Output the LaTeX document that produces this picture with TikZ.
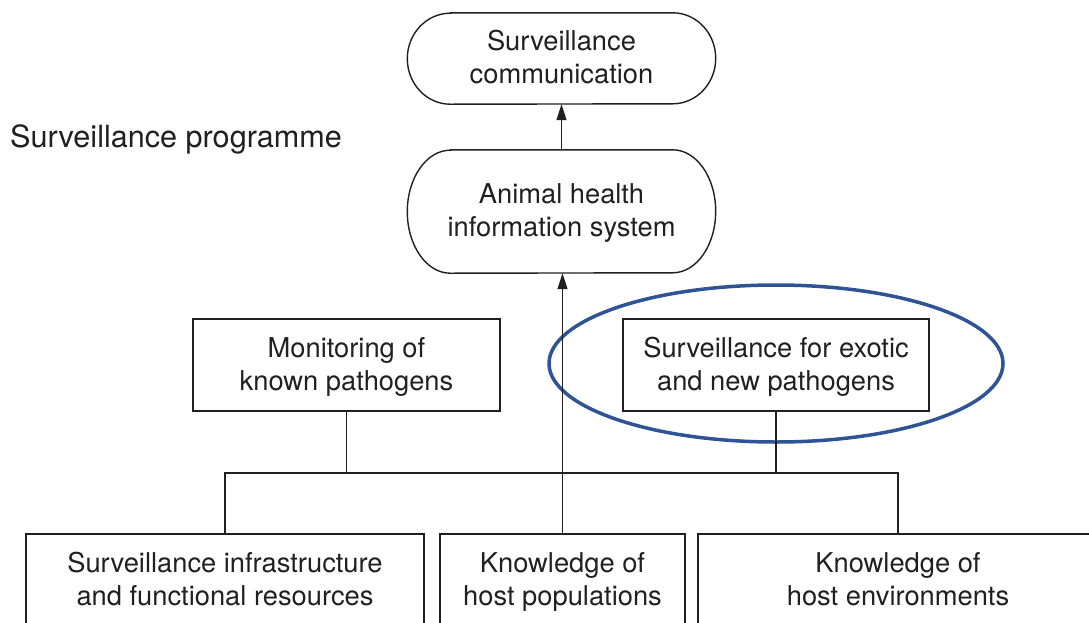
\documentclass[tikz,border=0pt]{standalone}
\usepackage{fontspec}
\setmainfont{TeX Gyre Heros}
\usetikzlibrary{arrows.meta}
\definecolor{ink}{HTML}{231F20}
\definecolor{hlblue}{RGB}{46,84,150}
\newcommand{\tstr}{\rule[-8pt]{0pt}{33pt}}
\begin{document}
\begin{tikzpicture}[x=1pt,y=-1pt,
  every node/.style={text=ink},
  nodetext/.style={font=\fontsize{27.3}{33}\selectfont, align=center, inner sep=0pt},
  box/.style={nodetext, draw=ink, line width=1.4pt},
  pill/.style={nodetext},
  conn/.style={draw=ink, line width=1.4pt},
  arr/.style={conn, -{Triangle[length=16pt,width=10pt]}},
  hl/.style={draw=hlblue, line width=3.5pt}]
\useasboundingbox (0,0) rectangle (1089,622);
\clip (0,0) rectangle (1089,622);
\fill[white] (0,0) rectangle (1089,622);

% title
\node[anchor=base west, font=\fontsize{30.6}{36}\selectfont, inner sep=0pt] (prog) at (10,147) {Surveillance programme};

% pills
\node[pill, minimum width=308pt, minimum height=91pt] (sc) at (561.5,58.5) {\rule{0pt}{25pt}Surveillance\\communication\rule[-8pt]{0pt}{8pt}};
\node[pill, minimum width=308pt, minimum height=123pt] (ah) at (561.5,211.5) {\rule{0pt}{25pt}Animal health\\information system\rule[-8pt]{0pt}{8pt}};
\draw[conn] ([xshift=43pt]sc.north west) -- ([xshift=-43pt]sc.north east)
  arc[start angle=90,end angle=-90,x radius=43pt,y radius=45.5pt]
  -- ([xshift=43pt]sc.south west)
  arc[start angle=270,end angle=90,x radius=43pt,y radius=45.5pt] -- cycle;
\draw[conn] ([xshift=43pt]ah.north west) -- ([xshift=-43pt]ah.north east)
  arc[start angle=90,end angle=-90,x radius=43pt,y radius=61.5pt]
  -- ([xshift=43pt]ah.south west)
  arc[start angle=270,end angle=90,x radius=43pt,y radius=61.5pt] -- cycle;

% middle boxes
\node[box, minimum width=307pt, minimum height=92pt] (mon) at (346.5,365) {\rule{0pt}{25pt}Monitoring of\\known pathogens\rule[-8pt]{0pt}{8pt}};
\node[box, minimum width=306pt, minimum height=92pt] (exo) at (776,365) {\rule{0pt}{25pt}Surveillance for exotic\\and new pathogens\rule[-8pt]{0pt}{8pt}};

% bottom boxes
\node[box, minimum width=398pt, minimum height=92pt] (inf) at (225,580) {\rule{0pt}{25pt}Surveillance infrastructure\\and functional resources\rule[-8pt]{0pt}{8pt}};
\node[box, minimum width=245pt, minimum height=92pt] (pop) at (562.5,580) {\rule{0pt}{25pt}Knowledge of\\host populations\rule[-8pt]{0pt}{8pt}};
\node[box, minimum width=400pt, minimum height=92pt] (env) at (898,580) {\rule{0pt}{25pt}Knowledge of\\host environments\rule[-8pt]{0pt}{8pt}};

% highlight
\draw[hl] ([yshift=1.5pt]exo.center) ellipse[x radius=227pt, y radius=78.5pt];

% connectors
\coordinate (bus) at (0,473);
\draw[conn] (inf.north) -- (inf.north |- bus) -| (env.north);
\draw[conn] (mon.south) -- (mon.south |- bus);
\draw[conn] (exo.south) -- (exo.south |- bus);
\draw[arr] (pop.north) -- (pop.north |- ah.south);
\draw[arr] (ah.north) -- (sc.south);
\end{tikzpicture}
\end{document}
